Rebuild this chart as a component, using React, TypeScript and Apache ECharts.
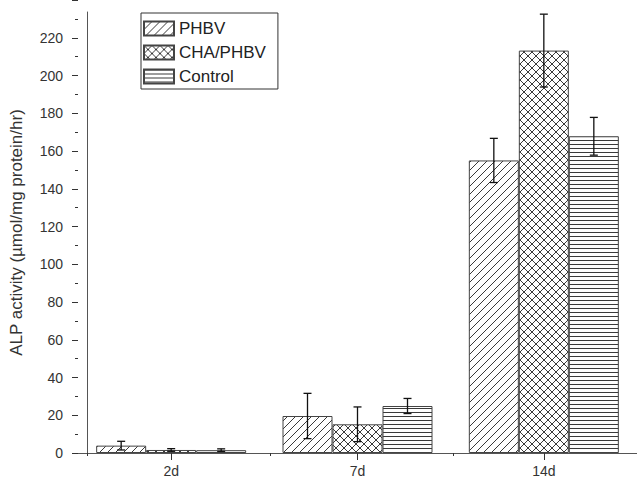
import React, { useEffect, useRef } from "react";
import * as echarts from "echarts";

const categories = ["2d", "7d", "14d"];
const seriesNames = ["PHBV", "CHA/PHBV", "Control"];
const phbvValues = [3.9, 19.6, 155.0];
const phbvErrors = [2.3, 12.0, 11.7];
const chaValues = [1.6, 15.2, 213.2];
const chaErrors = [0.7, 9.2, 19.3];
const controlValues = [1.5, 24.9, 167.8];
const controlErrors = [0.7, 4.0, 10.0];

const BAR_W = 50;
const FONT = "'Liberation Sans', Arial, sans-serif";

function makePattern(kind: string) {
  const c = document.createElement("canvas");
  const w = 8;
  const h = kind === "h" ? 4 : 8;
  c.width = w;
  c.height = h;
  const ctx = c.getContext("2d")!;
  ctx.fillStyle = "#ffffff";
  ctx.fillRect(0, 0, w, h);
  ctx.strokeStyle = "#3a3a3a";
  ctx.fillStyle = "#3a3a3a";
  ctx.lineWidth = 1;
  if (kind === "h") {
    ctx.fillRect(0, 0, w, 1);
  } else {
    const diag = () => {
      ctx.beginPath();
      ctx.moveTo(-2, 10);
      ctx.lineTo(10, -2);
      ctx.moveTo(-2, 2);
      ctx.lineTo(2, -2);
      ctx.moveTo(6, 10);
      ctx.lineTo(10, 6);
      ctx.stroke();
    };
    diag();
    if (kind === "x") {
      ctx.save();
      ctx.translate(w, 0);
      ctx.scale(-1, 1);
      diag();
      ctx.restore();
    }
  }
  return { image: c, repeat: "repeat", imageWidth: w, imageHeight: h } as any;
}

export default function App() {
  const ref = useRef<HTMLDivElement>(null);
  useEffect(() => {
    if (!ref.current) return;
    const chart = echarts.init(ref.current, undefined, { renderer: "svg" });
    const k = 441 / 233;
    const zeroY = 453;
    const values = [phbvValues, chaValues, controlValues];
    const errors = [phbvErrors, chaErrors, controlErrors];
    const patterns = [makePattern("d"), makePattern("x"), makePattern("h")];
    const errData: number[][] = [];
    values.forEach((vals, si) =>
      vals.forEach((v, ci) => errData.push([ci, si, v, errors[si][ci]]))
    );
    const axisColor = "#555";
    chart.setOption({
      animation: false,
      backgroundColor: "#ffffff",
      textStyle: { fontFamily: FONT },
      grid: [
        { left: 78, width: 563, top: zeroY - 240 * k, height: 240 * k },
        { left: 78, width: 563, top: 12, height: 441 },
      ],
      legend: {
        data: seriesNames,
        orient: "vertical",
        left: 141,
        top: 13,
        icon: "rect",
        itemWidth: 30,
        itemHeight: 14,
        itemGap: 7,
        padding: [7, 12, 4, 2],
        borderColor: "#333",
        borderWidth: 1,
        textStyle: { fontSize: 17, color: "#222", fontFamily: FONT, lineHeight: 14 },
      },
      xAxis: [
        {
          type: "category",
          gridIndex: 0,
          data: categories,
          boundaryGap: true,
          axisLine: { show: true, lineStyle: { color: axisColor, width: 1 } },
          axisTick: { show: true, alignWithLabel: true, length: 7, lineStyle: { color: "#333" } },
          axisLabel: { fontSize: 14, color: "#333", margin: 11, fontFamily: FONT },
          splitLine: { show: false },
        },
        {
          type: "category",
          gridIndex: 1,
          data: categories,
          boundaryGap: true,
          axisLine: { show: false },
          axisTick: { show: true, alignWithLabel: false, length: 3, lineStyle: { color: "#333" } },
          axisLabel: { show: false },
          splitLine: { show: false },
        },
      ],
      yAxis: [
        {
          type: "value",
          gridIndex: 0,
          min: 0,
          max: 240,
          interval: 20,
          axisLine: { show: false },
          axisTick: { show: true, length: 6, lineStyle: { color: "#333" } },
          minorTick: { show: true, splitNumber: 2, length: 3, lineStyle: { color: "#333" } },
          axisLabel: { fontSize: 14, color: "#333", margin: 15, showMaxLabel: false, fontFamily: FONT },
          splitLine: { show: false },
        },
        {
          type: "value",
          gridIndex: 1,
          min: 0,
          max: 233,
          name: "ALP activity (µmol/mg protein/hr)",
          nameLocation: "middle",
          nameGap: 62,
          nameRotate: 90,
          nameTextStyle: { fontSize: 17, color: "#333", fontFamily: FONT },
          axisLine: { show: true, lineStyle: { color: axisColor, width: 1 } },
          axisTick: { show: false },
          axisLabel: { show: false },
          splitLine: { show: false },
        },
      ],
      series: [
        ...seriesNames.map((name, si) => ({
          name,
          type: "bar",
          xAxisIndex: 0,
          yAxisIndex: 0,
          barWidth: BAR_W,
          barGap: "0%",
          data: values[si],
          itemStyle: { color: patterns[si], borderColor: "#444", borderWidth: 1 },
        })),
        {
          type: "custom",
          xAxisIndex: 0,
          yAxisIndex: 0,
          z: 5,
          encode: { x: 0, y: 2 },
          data: errData,
          renderItem: (params: any, api: any) => {
            const ci = api.value(0);
            const si = api.value(1);
            const v = api.value(2);
            const e = api.value(3);
            const top = api.coord([ci, v + e]);
            const bot = api.coord([ci, v - e]);
            const x = top[0] + (si - 1) * BAR_W;
            const cap = 4;
            const st = { stroke: "#111", lineWidth: 1.3 };
            return {
              type: "group",
              children: [
                { type: "line", shape: { x1: x, y1: top[1], x2: x, y2: bot[1] }, style: st },
                { type: "line", shape: { x1: x - cap, y1: top[1], x2: x + cap, y2: top[1] }, style: st },
                { type: "line", shape: { x1: x - cap, y1: bot[1], x2: x + cap, y2: bot[1] }, style: st },
              ],
            };
          },
        },
      ],
    });
    return () => chart.dispose();
  }, []);
  return (
    <div
      ref={ref}
      style={{ position: "fixed", left: 0, top: 0, width: 637, height: 479, background: "#fff" }}
    />
  );
}
